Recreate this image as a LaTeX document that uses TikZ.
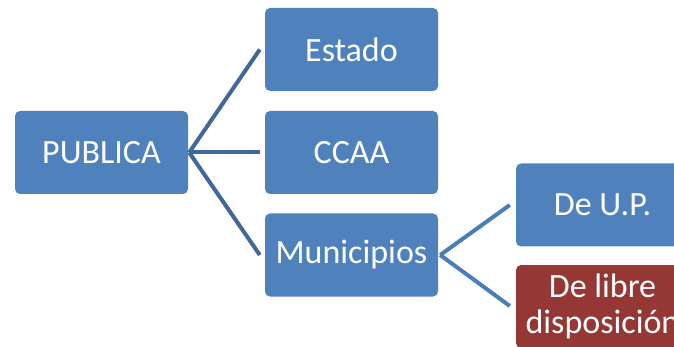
\documentclass[tikz,border=0pt]{standalone}
\usepackage{fontspec}
\setmainfont{Carlito}
\definecolor{boxblue}{HTML}{4F81BD}
\definecolor{boxred}{HTML}{953735}
\definecolor{linkdark}{HTML}{41689C}
\definecolor{linklight}{HTML}{4A7EBB}
\tikzset{
  box/.style={fill=boxblue, draw=none, rounded corners=5pt, minimum width=173pt,
    minimum height=83pt, text=white, align=center, inner sep=0pt,
    font=\fontsize{34}{36}\selectfont},
  redbox/.style={box, fill=boxred},
  link/.style={line width=4pt}
}

\begin{document}
\begin{tikzpicture}[x=1pt,y=-1pt]
    \useasboundingbox (0,0) rectangle (674,347);
    \clip (0,0) rectangle (674,347);
    \node[box] (publica) at (101.5,152.5) {PUBLICA};
    \node[box] (estado) at (351.5,49.5) {Estado};
    \node[box] (ccaa) at (351.5,152.5) {CCAA};
    \node[box] (municipios) at (351.5,255) {Municipios};
    \node[box] (deup) at (602.5,205) {De U.P.};
    \node[redbox] (delibre) at (602.5,306.5) {De libre\\disposición};
    \coordinate (p0) at ([xshift=1pt]publica.east);
    \coordinate (m0) at ([xshift=2pt]municipios.east);
    \draw[link, linkdark] (p0) -- ([xshift=-5pt]estado.west);
    \draw[link, linkdark] (p0) -- ([xshift=-5pt]ccaa.west);
    \draw[link, linkdark] (p0) -- ([xshift=-5pt]municipios.west);
    \draw[link, linklight] (m0) -- ([xshift=-6pt]deup.west);
    \draw[link, linklight] (m0) -- ([xshift=-6pt,yshift=0.5pt]delibre.west);
  \end{tikzpicture}
\end{document}
